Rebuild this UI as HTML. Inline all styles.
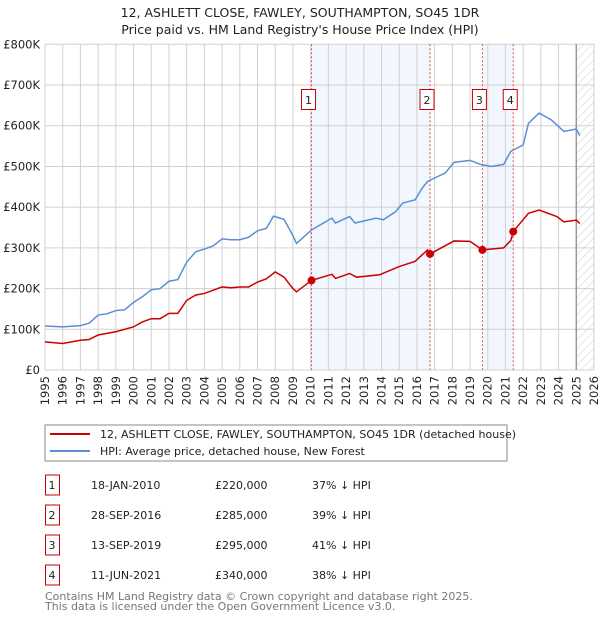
<!DOCTYPE html>
<html><head><meta charset="utf-8"><style>
body{margin:0;background:#fff;font-family:"DejaVu Sans","Liberation Sans",sans-serif;}
svg text{font-family:"DejaVu Sans","Liberation Sans",sans-serif;}
</style></head><body>
<svg id="c" width="600" height="620" xmlns="http://www.w3.org/2000/svg">
<text x="300" y="17" font-size="12.5" text-anchor="middle" fill="#222">12, ASHLETT CLOSE, FAWLEY, SOUTHAMPTON, SO45 1DR</text>
<text x="300" y="34" font-size="12.5" text-anchor="middle" fill="#222">Price paid vs. HM Land Registry's House Price Index (HPI)</text>
<defs><pattern id="hatch" width="6" height="6" patternUnits="userSpaceOnUse" patternTransform="rotate(45)"><line x1="0" y1="0" x2="0" y2="6" stroke="#ccc" stroke-width="1"/></pattern></defs>
<g id="plot"></g>
<rect x="45" y="425" width="462" height="36" fill="#fff" stroke="#888"/>
<line x1="50" y1="434" x2="90" y2="434" stroke="#cc0000" stroke-width="2"/>
<text x="100" y="438" font-size="11" fill="#222">12, ASHLETT CLOSE, FAWLEY, SOUTHAMPTON, SO45 1DR (detached house)</text>
<line x1="50" y1="451" x2="90" y2="451" stroke="#5b8ed6" stroke-width="2"/>
<text x="100" y="455" font-size="11" fill="#222">HPI: Average price, detached house, New Forest</text>
<g id="table" font-size="11" fill="#222"></g>
<text x="45" y="600" font-size="11" fill="#777">Contains HM Land Registry data © Crown copyright and database right 2025.</text>
<text x="45" y="610" font-size="11" fill="#777">This data is licensed under the Open Government Licence v3.0.</text>
</svg>
<script>
const hpiYears=[1995,1996,1997,1997.5,1998,1998.5,1999,1999.5,2000,2000.5,2001,2001.5,2002,2002.5,2003,2003.5,2004,2004.5,2005,2005.5,2006,2006.5,2007,2007.5,2007.9,2008.5,2009,2009.2,2010.05,2011.2,2011.4,2012.2,2012.5,2013.7,2014.1,2014.8,2015.2,2015.9,2016.3,2016.6,2017.6,2018.1,2019.0,2019.6,2020.2,2020.9,2021.3,2022.0,2022.3,2022.9,2023.6,2024.3,2025.0,2025.2];
const hpiValues=[108,106,109,115,135,138,146,148,166,180,197,200,218,222,265,290,297,305,322,320,320,326,342,348,378,370,330,311,344,373,361,377,361,373,369,389,410,418,447,463,484,510,515,505,500,505,537,553,606,631,614,586,592,576];
const redYears=[1995,1996,1997,1997.5,1998,1999,2000,2000.5,2001,2001.5,2002,2002.5,2003,2003.5,2004,2004.5,2005,2005.5,2006,2006.5,2007,2007.5,2008,2008.5,2009,2009.2,2010.05,2011.2,2011.4,2012.2,2012.6,2013.9,2015.0,2015.9,2016.6,2016.74,2018.1,2019.0,2019.7,2020.9,2021.3,2021.44,2022.3,2022.9,2023.9,2024.3,2025.0,2025.2];
const redValues=[69,65,73,75,86,94,106,118,126,126,139,139,171,184,188,196,204,202,204,204,216,224,241,228,200,192,220,235,225,237,228,234,254,267,295,285,317,316,295,300,318,340,385,393,377,364,368,360];
const saleYears=[2010.05,2016.74,2019.7,2021.44];
const saleValues=[220,285,295,340];
const saleLabels=['1','2','3','4'];
const saleDates=['18-JAN-2010','28-SEP-2016','13-SEP-2019','11-JUN-2021'];
const salePrices=['£220,000','£285,000','£295,000','£340,000'];
const saleDiffs=['37% ↓ HPI','39% ↓ HPI','41% ↓ HPI','38% ↓ HPI'];
const yTicks=[0,100,200,300,400,500,600,700,800];
const yTickLabels=['£0','£100K','£200K','£300K','£400K','£500K','£600K','£700K','£800K'];
const xTicks=[1995,1996,1997,1998,1999,2000,2001,2002,2003,2004,2005,2006,2007,2008,2009,2010,2011,2012,2013,2014,2015,2016,2017,2018,2019,2020,2021,2022,2023,2024,2025,2026];
const X0=45,X1=594,Y0=370,Y1=44.3;
const xs=y=>X0+(y-1995)/(2026-1995)*(X1-X0);
const ys=v=>Y0-v/800*(Y0-Y1);
const NS='http://www.w3.org/2000/svg';
const plot=document.getElementById('plot');
function mk(tag,attrs,parent){const e=document.createElementNS(NS,tag);for(const k in attrs)e.setAttribute(k,attrs[k]);(parent||plot).appendChild(e);return e;}
[[0,1],[2,3]].forEach(p=>{
 const r=mk('rect',{x:xs(saleYears[p[0]]),y:Y1,width:xs(saleYears[p[1]])-xs(saleYears[p[0]]),height:Y0-Y1,fill:'#f2f6fe'});
 
 
});
const h=mk('rect',{x:xs(2025.0),y:Y1,width:X1-xs(2025.0),height:Y0-Y1,fill:'url(#hatch)'});


xTicks.forEach(t=>{
 const l=mk('line',{x1:xs(t),x2:xs(t),y1:Y1,y2:Y0,stroke:'#d0d0d0','stroke-width':1});
 
 
 const tx=mk('text',{x:0,y:0,'font-size':11.5,fill:'#222','text-anchor':'end',transform:`translate(${xs(t)+4},376) rotate(-90)`});
 tx.textContent=t;
 
 
});
yTicks.forEach((t,i)=>{
 const l=mk('line',{x1:X0,x2:X1,y1:ys(t),y2:ys(t),stroke:'#d0d0d0','stroke-width':1});
 
 
 const tx=mk('text',{x:40,y:ys(t)+4,'font-size':11.5,fill:'#222','text-anchor':'end'});
 tx.textContent=yTickLabels[i];
 
 
});
const vl=mk('line',{x1:xs(2025.0),x2:xs(2025.0),y1:Y1,y2:Y0,stroke:'#999','stroke-width':1.5});


saleYears.forEach((s,i)=>{
 const l=mk('line',{x1:xs(s),x2:xs(s),y1:Y1,y2:Y0,stroke:'#e05050','stroke-width':1,'stroke-dasharray':'2,2'});
 
 
});
const hp=mk('polyline',{points:hpiYears.map((y,i)=>xs(y)+','+ys(hpiValues[i])).join(' '),fill:'none',stroke:'#5b8ed6','stroke-width':1.5});


const rp=mk('polyline',{points:redYears.map((y,i)=>xs(y)+','+ys(redValues[i])).join(' '),fill:'none',stroke:'#cc0000','stroke-width':1.5});


saleYears.forEach((s,i)=>{
 const c=mk('circle',{cx:xs(s),cy:ys(saleValues[i]),r:4,fill:'#cc0000'});
 
 
 const b=mk('rect',{x:xs(s)-10,y:89.5,width:14,height:20,fill:'#fff',stroke:'#cc0000'});
 
 
 const t=mk('text',{x:xs(s)-3,y:104,'font-size':11,'text-anchor':'middle',fill:'#222'});
 t.textContent=saleLabels[i];
 
 
});
const tb=document.getElementById('table');
saleLabels.forEach((lab,i)=>{
 const y=483+i*30;
 const b=mk('rect',{x:45.5,y:y-8,width:14,height:20,fill:'#fff',stroke:'#cc0000'},tb);
 
 
 const cols=[[52,lab,'middle'],[91,saleDates[i],'start'],[215,salePrices[i],'start'],[312,saleDiffs[i],'start']];
 cols.forEach(c=>{
  const t=mk('text',{x:c[0],y:y+6,'text-anchor':c[2]},tb);
  t.textContent=c[1];
  
  
 });
});
</script>
</body></html>
